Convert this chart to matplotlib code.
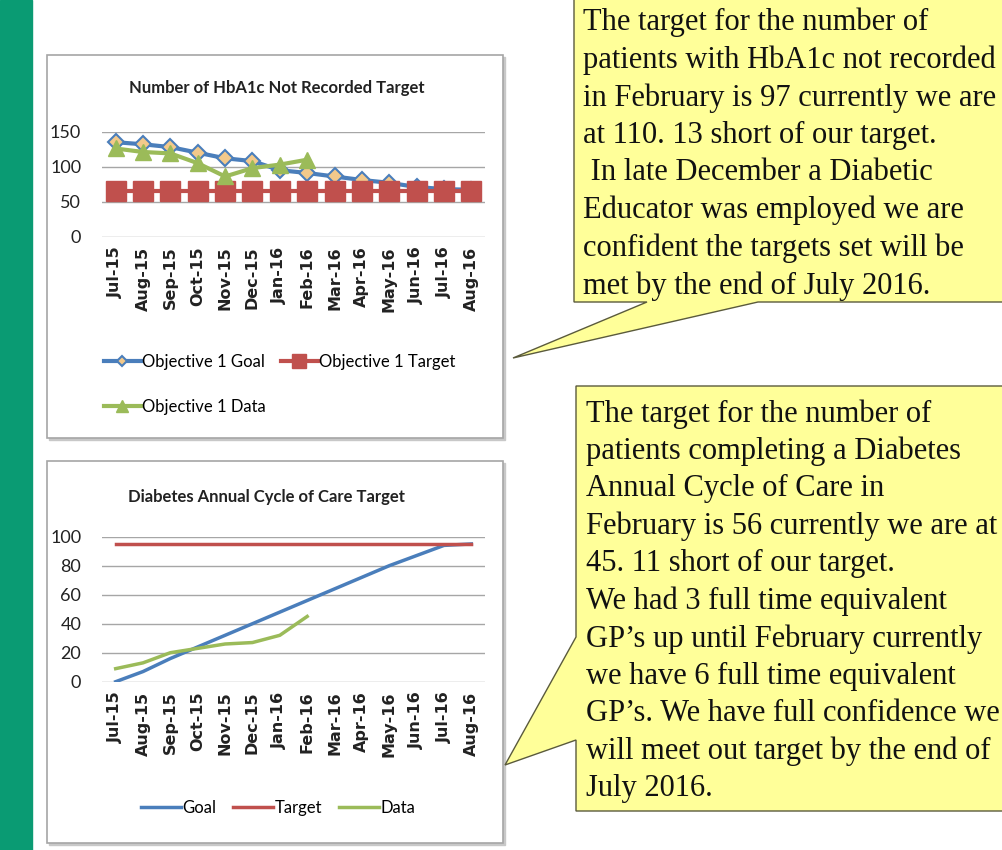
import matplotlib.pyplot as plt
from matplotlib.patches import Rectangle, Polygon

W, H = 1003, 850

months = ['Jul-15', 'Aug-15', 'Sep-15', 'Oct-15', 'Nov-15', 'Dec-15', 'Jan-16',
          'Feb-16', 'Mar-16', 'Apr-16', 'May-16', 'Jun-16', 'Jul-16', 'Aug-16']

# chart 1 - HbA1c not recorded
hba1c_goal = [135, 132, 128, 120, 112, 108, 95, 91, 86, 81, 77, 71, 68, 67]
hba1c_target = [65] * 14
hba1c_data = [126, 121, 119, 105, 86, 98, 103, 110]

# chart 2 - annual cycle of care
cycle_goal = [0, 7, 16, 24, 32, 40, 48, 56, 64, 72, 80, 87, 94, 95]
cycle_target = [95] * 14
cycle_data = [9, 13, 20, 23, 26, 27, 32, 45]

note1 = ("The target for the number of\n"
         "patients with HbA1c not recorded\n"
         "in February is 97 currently we are\n"
         "at 110. 13 short of our target.\n"
         " In late December a Diabetic\n"
         "Educator was employed we are\n"
         "confident the targets set will be\n"
         "met by the end of July 2016.")
note2 = ("The target for the number of\n"
         "patients completing a Diabetes\n"
         "Annual Cycle of Care in\n"
         "February is 56 currently we are at\n"
         "45. 11 short of our target.\n"
         "We had 3 full time equivalent\n"
         "GP\u2019s up until February currently\n"
         "we have 6 full time equivalent\n"
         "GP\u2019s. We have full confidence we\n"
         "will meet out target by the end of\n"
         "July 2016.")

BLUE, RED, GREEN = '#4a7ebb', '#c0504d', '#9bbb59'
sans = ['Lato', 'DejaVu Sans']
serif = ['Liberation Serif', 'DejaVu Serif']

fig = plt.figure(figsize=(W / 100, H / 100), dpi=100)


def px(l, t, r, b):
    return [l / W, 1 - b / H, (r - l) / W, (b - t) / H]


# background layer in pixel coordinates
bg = fig.add_axes([0, 0, 1, 1], zorder=0)
bg.set_xlim(0, W)
bg.set_ylim(H, 0)
bg.axis('off')
bg.add_patch(Rectangle((0, 0), 32, H, color='#0a9b73'))
for top, bot in [(55, 438), (461, 843)]:
    bg.add_patch(Rectangle((49, top + 2), 456, bot - top, color='#c8c8c8'))
    bg.add_patch(Rectangle((47, top), 456, bot - top, facecolor='white',
                           edgecolor='#a6a6a6', lw=1.2))

# callouts
yellow, edge = '#ffff99', '#5a5a3c'
bg.add_patch(Polygon([(1010, -5), (574, -5), (574, 302), (647, 302), (513, 358),
                      (758, 302), (1010, 302)], closed=True,
                     facecolor=yellow, edgecolor=edge, lw=1))
bg.add_patch(Polygon([(1010, 386), (576, 386), (576, 637), (505, 765), (576, 740),
                      (576, 811), (1010, 811)], closed=True,
                     facecolor=yellow, edgecolor=edge, lw=1))
bg.text(583, 7, note1, family=serif, fontsize=22, va='top', ha='left',
        linespacing=1.38, color='#111111', clip_on=True)
bg.text(586, 399, note2, family=serif, fontsize=22, va='top', ha='left',
        linespacing=1.37, color='#111111', clip_on=True)

# titles
bg.text(277, 88, 'Number of HbA1c Not Recorded Target', family=sans,
        fontsize=12, fontweight='bold', ha='center', va='center', color='#222222')
bg.text(266, 497, 'Diabetes Annual Cycle of Care Target', family=sans,
        fontsize=12, fontweight='bold', ha='center', va='center', color='#222222')


def style(ax, ymax, step):
    ax.set_facecolor('none')
    ax.set_xlim(-0.5, 13.5)
    ax.set_ylim(0, ymax)
    ax.set_yticks(range(0, ymax + 1, step))
    ax.yaxis.grid(True, color='#a6a6a6', lw=1)
    ax.set_axisbelow(True)
    for s in ax.spines.values():
        s.set_visible(False)
    ax.tick_params(length=0)
    ax.tick_params(axis='y', pad=15, labelsize=13)
    ax.set_xticks(range(len(months)))
    ax.set_xticklabels(months, rotation=90, fontsize=11.5, fontweight='bold',
                       family='DejaVu Sans', color='#222222')
    ax.tick_params(axis='x', pad=7)
    for lab in ax.get_yticklabels():
        lab.set_family(sans)
        lab.set_color('#222222')


ax1 = fig.add_axes(px(102, 131.7, 485, 236.7), zorder=1)
h_goal, = ax1.plot(range(len(hba1c_goal)), hba1c_goal, color=BLUE, lw=3,
                   marker='D', ms=8, mfc='#f3c98b', mec=BLUE, mew=1.5,
                   label='Objective 1 Goal')
h_target, = ax1.plot(range(len(hba1c_target)), hba1c_target, color=RED, lw=3,
                     marker='s', ms=15, mfc=RED, mec=RED,
                     label='Objective 1 Target')
h_data, = ax1.plot(range(len(hba1c_data)), hba1c_data, color=GREEN, lw=3,
                   marker='^', ms=12, mfc=GREEN, mec=GREEN,
                   label='Objective 1 Data')
style(ax1, 150, 50)
ax1.legend([h_goal, h_data, h_target],
           ['Objective 1 Goal', 'Objective 1 Data', 'Objective 1 Target'],
           ncol=2, loc='upper left', bbox_to_anchor=(104 / W, 1 - 354 / H),
           bbox_transform=fig.transFigure, frameon=False,
           prop={'family': sans, 'size': 12}, handlelength=2.2,
           handletextpad=0.1, columnspacing=0.9, labelspacing=1.75,
           markerscale=0.7, borderpad=0, borderaxespad=0)

ax2 = fig.add_axes(px(102, 536.7, 485, 681.7), zorder=1)
ax2.plot(range(len(cycle_goal)), cycle_goal, color=BLUE, lw=2.5, label='Goal')
ax2.plot(range(len(cycle_target)), cycle_target, color=RED, lw=2.5, label='Target')
ax2.plot(range(len(cycle_data)), cycle_data, color=GREEN, lw=2.5, label='Data')
style(ax2, 100, 20)
ax2.legend(ncol=3, loc='center', bbox_to_anchor=(278 / W, 1 - 808 / H),
           bbox_transform=fig.transFigure, frameon=False,
           prop={'family': sans, 'size': 12}, handlelength=2.4,
           handletextpad=0.1, columnspacing=1.0, borderpad=0)

fig.savefig('out.png', dpi=100)
